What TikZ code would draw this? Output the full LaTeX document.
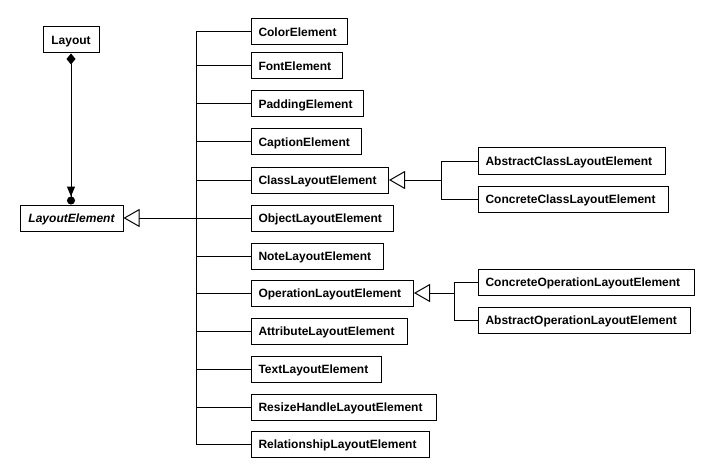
\documentclass[tikz,border=0pt]{standalone}
\usepackage{fontspec}
\setmainfont{Liberation Sans}
\usetikzlibrary{arrows.meta}
\begin{document}
\begin{tikzpicture}[x=1pt,y=-1pt,
  font=\fontsize{12pt}{14pt}\selectfont\bfseries,
  cls/.style={draw, line width=1pt, fill=white, anchor=west, minimum height=26pt,
    inner xsep=7pt, inner ysep=0pt, align=left, text height=10.8pt, text depth=2.2pt},
  wire/.style={line width=1pt},
  gen/.style={wire, -{Triangle[open, length=16pt, width=18pt, fill=white]}}]
\useasboundingbox (0,0) rectangle (712,476);
% left
\node[cls, anchor=center, minimum width=56pt, align=center] (layout) at (71,40) {Layout};
\node[cls, anchor=center, minimum width=103pt, align=center] (le) at (71.5,218) {\itshape LayoutElement};
\draw[wire, {Diamond[length=11pt,width=9pt]}-{Triangle[length=10pt,width=8pt] Circle[length=8pt]}] (layout.south) -- (le.north -| layout.south);
% right column
\node[cls, text width=82pt]  (c1)  at (251,32)  {ColorElement};
\node[cls, text width=77pt]  (c2)  at (251,66)  {FontElement};
\node[cls, text width=98pt]  (c3)  at (251,104) {PaddingElement};
\node[cls, text width=96pt]  (c4)  at (251,142) {CaptionElement};
\node[cls, text width=123pt] (c5)  at (251,180) {ClassLayoutElement};
\node[cls, text width=128pt] (c6)  at (251,218) {ObjectLayoutElement};
\node[cls, text width=118pt] (c7)  at (251,256) {NoteLayoutElement};
\node[cls, text width=148pt] (c8)  at (251,293) {OperationLayoutElement};
\node[cls, text width=142pt] (c9)  at (251,331) {AttributeLayoutElement};
\node[cls, text width=116pt] (c10) at (251,369) {TextLayoutElement};
\node[cls, text width=171pt] (c11) at (251,407) {ResizeHandleLayoutElement};
\node[cls, text width=164pt] (c12) at (251,444) {RelationshipLayoutElement};
% sub boxes
\node[cls, text width=173pt] (a1) at (478,161) {AbstractClassLayoutElement};
\node[cls, text width=176pt] (a2) at (478,199) {ConcreteClassLayoutElement};
\node[cls, text width=202pt] (b1) at (478,282) {ConcreteOperationLayoutElement};
\node[cls, text width=198pt] (b2) at (478,320) {AbstractOperationLayoutElement};
% bus
\coordinate (bt) at (196,32);
\coordinate (bb) at (196,444);
\draw[wire] (c1.west) -| (bt) -- (bb) -- (c12.west);
\foreach \n in {c2,c3,c4,c5,c6,c7,c8,c9,c10,c11}
  \draw[wire] (\n.west -| bt) -- (\n.west);
\draw[gen] (le.east -| bt) -- (le.east);
% class sub
\coordinate (ca) at (441,161);
\coordinate (cb) at (441,199);
\draw[wire] (a1.west) -- (ca) -- (cb) -- (a2.west);
\draw[gen] (c5.east -| ca) -- (c5.east);
\coordinate (oa) at (454,282);
\coordinate (ob) at (454,320);
\draw[wire] (b1.west) -- (oa) -- (ob) -- (b2.west);
\draw[gen] (c8.east -| oa) -- (c8.east);
\end{tikzpicture}
\end{document}
